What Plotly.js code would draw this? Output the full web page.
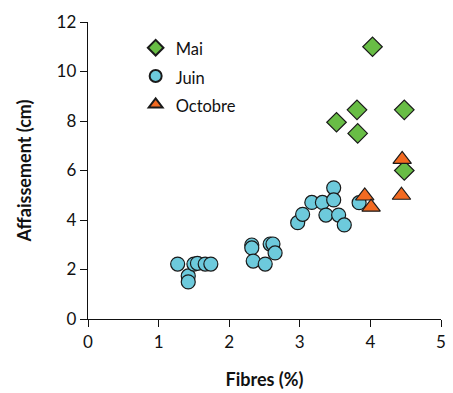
<!DOCTYPE html>
<html><head><meta charset="utf-8">
<script src="https://cdn.plot.ly/plotly-3.0.1.min.js"></script>
<style>body{margin:0;background:#fff}#c{width:453px;height:393px}</style>
</head><body><div id="c"></div>
<script>
const maiX = [4.03, 3.81, 4.48, 3.52, 3.82, 4.48];
const maiY = [11.0, 8.45, 8.45, 7.95, 7.5, 6.0];
const juinX = [1.27, 1.42, 1.42, 1.50, 1.55, 1.66, 1.74, 2.32, 2.32, 2.34, 2.51, 2.58, 2.62, 2.65,
               2.97, 3.04, 3.17, 3.32, 3.48, 3.48, 3.37, 3.55, 3.63, 3.84];
const juinY = [2.22, 1.74, 1.5, 2.22, 2.25, 2.22, 2.22, 2.99, 2.87, 2.34, 2.22, 3.03, 3.03, 2.67,
               3.89, 4.23, 4.71, 4.71, 5.3, 4.81, 4.2, 4.2, 3.8, 4.7];
const octX = [4.45, 3.92, 4.01, 4.44];
const octY = [6.45, 4.97, 4.52, 5.0];
const xTicks = [0, 1, 2, 3, 4, 5];
const yTicks = [0, 2, 4, 6, 8, 10, 12];
const names = ['Mai', 'Juin', 'Octobre'];

const F = "Lato, 'DejaVu Sans', sans-serif";
const line = {color: '#1a1a1a', width: 1.2};
const lbl = s => '<span style="font-size:16.5px">' + s + '</span>';
const data = [
  {x: maiX, y: maiY, name: lbl(names[0]), mode: 'markers', type: 'scatter',
   marker: {symbol: 'diamond', size: 15, color: '#68bd45', line: line}},
  {x: juinX, y: juinY, name: lbl(names[1]), mode: 'markers', type: 'scatter',
   marker: {symbol: 'circle', size: 14, color: '#6dcadc', line: line}},
  {x: octX, y: octY, name: lbl(names[2]), mode: 'markers', type: 'scatter',
   marker: {symbol: 'triangle-up', size: 16, color: '#f26a21', line: line}}
];
const layout = {
  width: 453, height: 393,
  margin: {l: 88, r: 12, t: 22, b: 74},
  paper_bgcolor: '#fff', plot_bgcolor: '#fff',
  font: {family: F, size: 17, color: '#111'},
  showlegend: true,
  legend: {x: 0.135, y: 0.978, xanchor: 'left', yanchor: 'top', bgcolor: 'rgba(0,0,0,0)',
           font: {family: F, size: 19.5, color: '#111'}, tracegroupgap: 0, itemsizing: 'constant',
           itemwidth: 30},
  xaxis: {range: [0, 5], tickvals: xTicks, showgrid: false, zeroline: false,
          showline: true, linecolor: '#111', linewidth: 1.3, ticks: 'outside', ticklen: 7,
          tickcolor: '#111', tickfont: {family: F, size: 17},
          title: {text: '<b>Fibres (%)</b>', font: {family: F, size: 18}, standoff: 22}},
  yaxis: {range: [0, 12], tickvals: yTicks, showgrid: false, zeroline: false,
          showline: true, linecolor: '#111', linewidth: 1.3, ticks: 'outside', ticklen: 7,
          tickcolor: '#111', tickfont: {family: F, size: 17},
          title: {text: '<b>Affaissement (cm)</b>', font: {family: F, size: 18}, standoff: 20}}
};
Plotly.newPlot('c', data, layout, {displayModeBar: false, staticPlot: true});
</script></body></html>
